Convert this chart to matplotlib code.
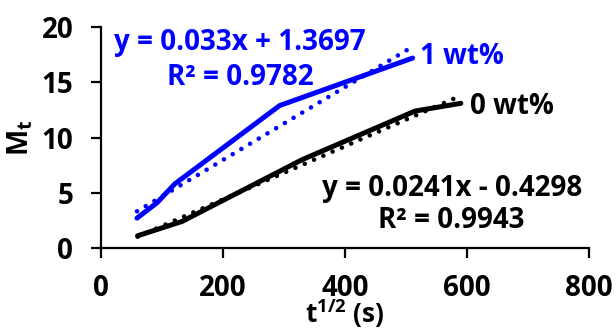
import matplotlib
matplotlib.use("Agg")
import matplotlib.pyplot as plt
import numpy as np

# Data
x_0wt = [60, 133, 330, 515, 590]
y_0wt = [1.1, 2.4, 8.0, 12.4, 13.1]
x_1wt = [59, 92, 121, 293, 511]
y_1wt = [2.7, 4.1, 5.8, 12.9, 17.2]

fit_0wt = (0.0241, -0.4298, 0.9943)
fit_1wt = (0.033, 1.3697, 0.9782)

x_ticks = [0, 200, 400, 600, 800]
y_ticks = [0, 5, 10, 15, 20]

BLUE = "#0000FF"
BLACK = "#000000"

plt.rcParams['font.family'] = ['Open Sans', 'DejaVu Sans']
plt.rcParams['font.weight'] = 'bold'
plt.rcParams['mathtext.fontset'] = 'custom'
plt.rcParams['mathtext.rm'] = 'Open Sans:bold'
plt.rcParams['mathtext.it'] = 'Open Sans:bold'
plt.rcParams['mathtext.bf'] = 'Open Sans:bold'

fig = plt.figure(figsize=(6.16, 3.31), dpi=100)
ax = fig.add_axes([0.164, 0.251, 0.792, 0.667])

ax.plot(x_1wt, y_1wt, color=BLUE, lw=3.6, solid_capstyle='round', solid_joinstyle='round')
ax.plot(x_0wt, y_0wt, color=BLACK, lw=3.6, solid_capstyle='round', solid_joinstyle='round')

for xs, fit, col in [(x_1wt, fit_1wt, BLUE), (x_0wt, fit_0wt, BLACK)]:
    xf = np.array([min(xs), max(xs)])
    yf = fit[0] * xf + fit[1]
    ax.plot(xf, yf, color=col, lw=3.3, linestyle=(0, (0.01, 2.2)), dash_capstyle='round')

ax.set_xlim(0, 800)
ax.set_ylim(0, 20)
ax.set_xticks(x_ticks)
ax.set_yticks(y_ticks)
for s in ['top', 'right']:
    ax.spines[s].set_visible(False)
for s in ['left', 'bottom']:
    ax.spines[s].set_linewidth(1.6)
ax.tick_params(axis='both', direction='out', length=7, width=1.6, labelsize=20)
ax.tick_params(axis='x', pad=12)
ax.tick_params(axis='y', pad=13)
for lab in ax.get_xticklabels() + ax.get_yticklabels():
    lab.set_fontweight('bold')

ax.set_xlabel("t$^{1/2}$ (s)", fontsize=19, fontweight='bold')
ax.xaxis.set_label_coords(0.5, -0.225)
ax.set_ylabel("M$_t$", fontsize=20, fontweight='bold', va='center')
ax.yaxis.set_label_coords(-0.165, 0.5)

fs = 20
ax.text(228, 18.6, "y = %.3fx + %.4f" % (fit_1wt[0], fit_1wt[1]), color=BLUE,
        fontsize=fs, fontweight='bold', ha='center', va='center')
ax.text(228, 15.4, "R² = %.4f" % fit_1wt[2], color=BLUE,
        fontsize=fs, fontweight='bold', ha='center', va='center')
ax.text(575, 5.4, "y = %.4fx - %.4f" % (fit_0wt[0], -fit_0wt[1]), color=BLACK,
        fontsize=fs, fontweight='bold', ha='center', va='center')
ax.text(575, 2.5, "R² = %.4f" % fit_0wt[2], color=BLACK,
        fontsize=fs, fontweight='bold', ha='center', va='center')
ax.text(523, 17.3, "1 wt%", color=BLUE, fontsize=fs, fontweight='bold', ha='left', va='center')
ax.text(605, 12.8, "0 wt%", color=BLACK, fontsize=fs, fontweight='bold', ha='left', va='center')

fig.savefig("out.png", dpi=100)
